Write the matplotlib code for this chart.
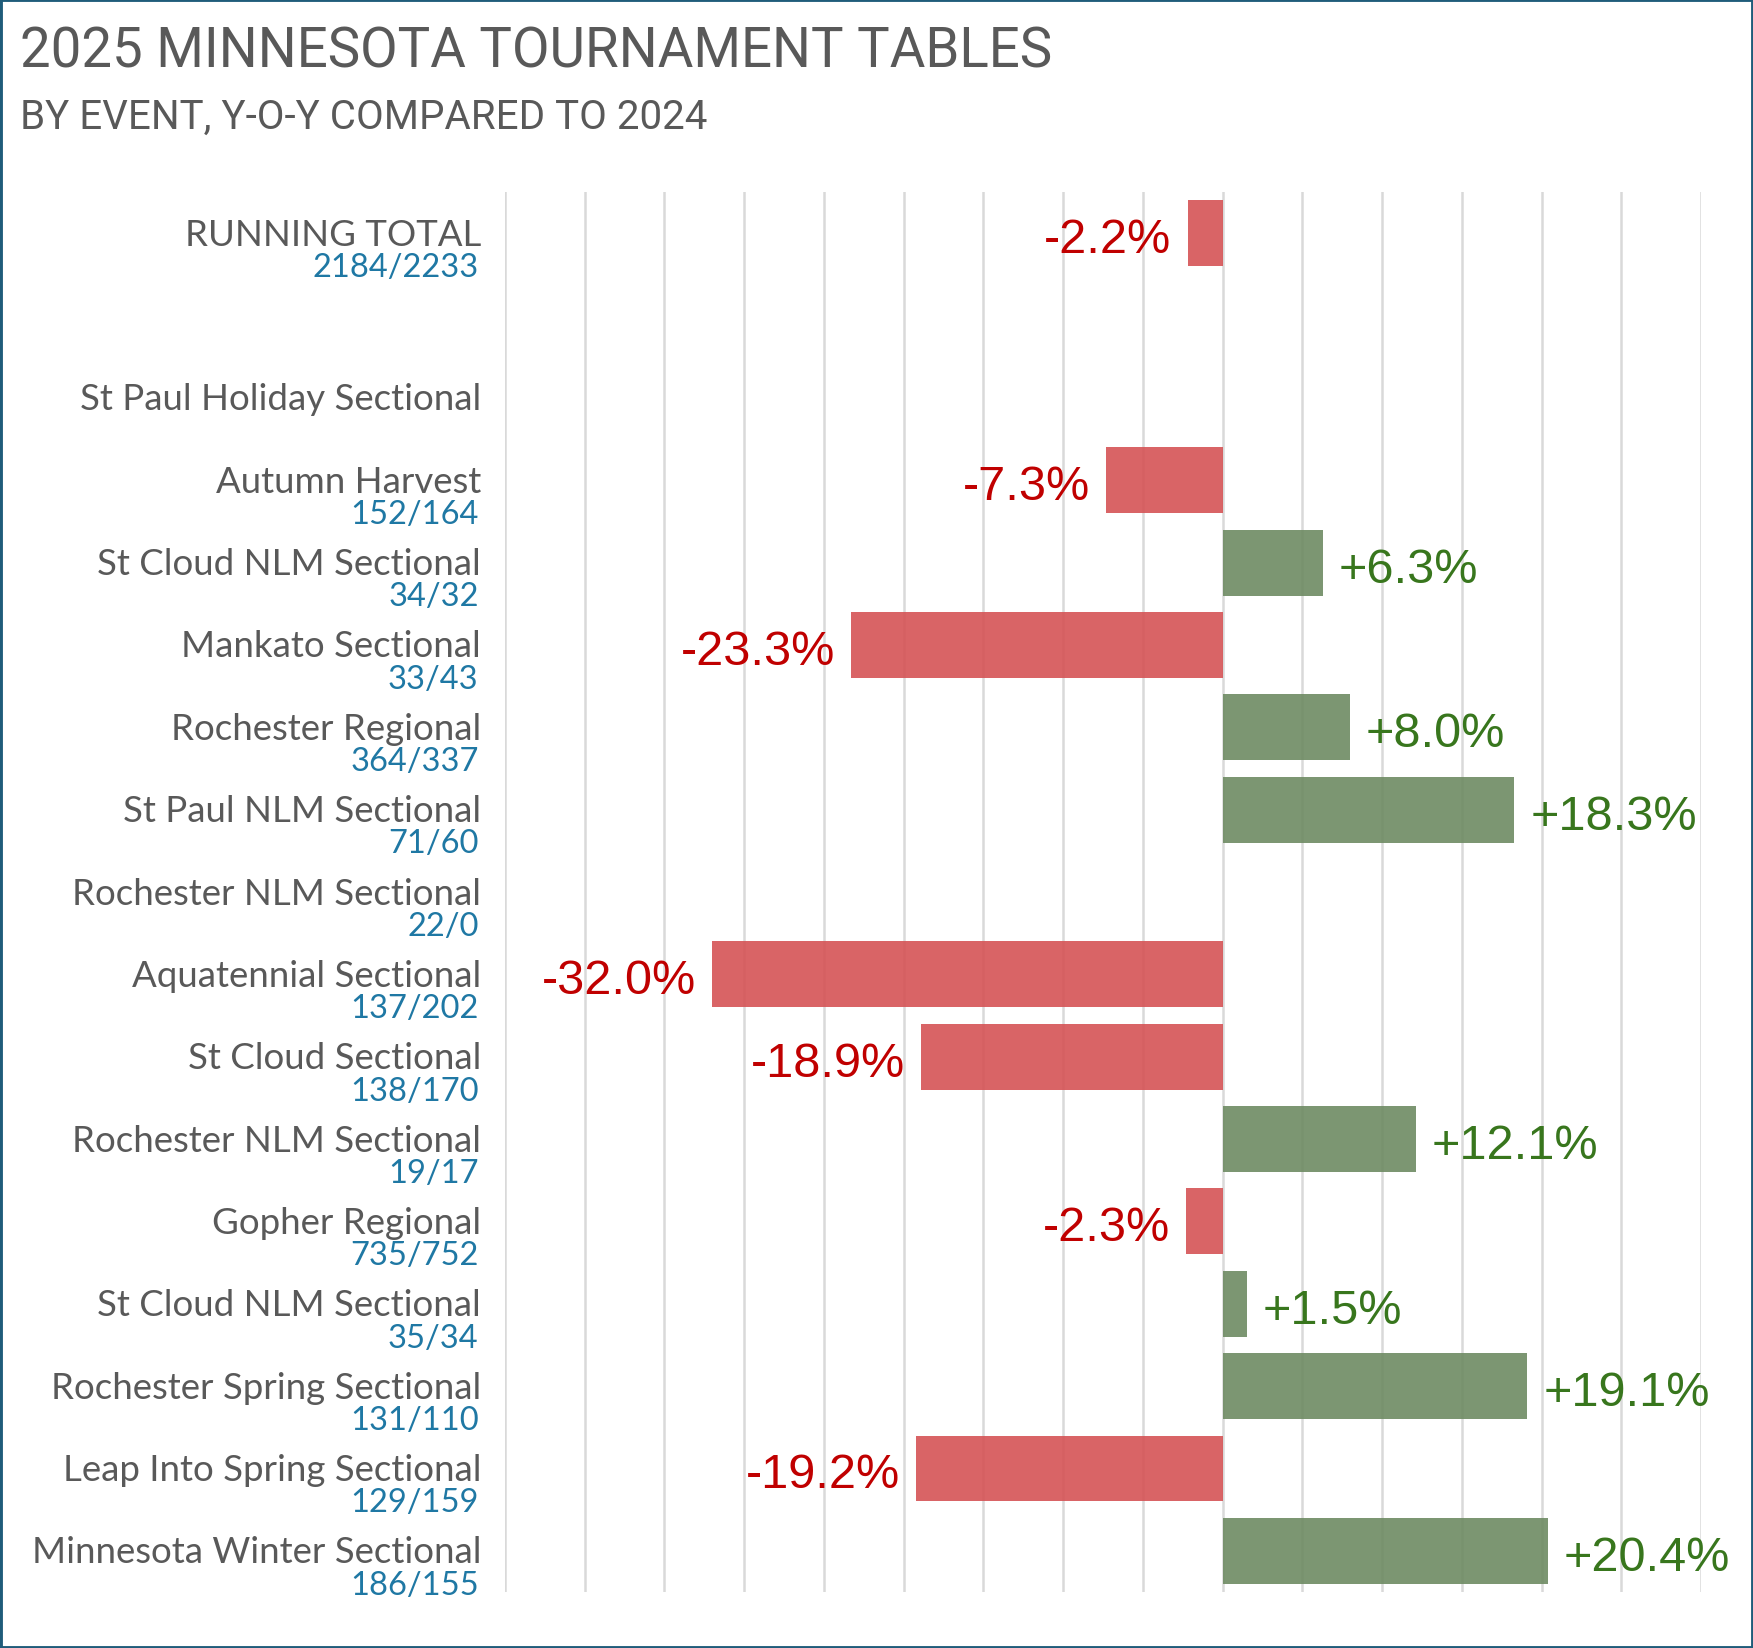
import numpy as np
import matplotlib
matplotlib.use("Agg")
import matplotlib.pyplot as plt
from matplotlib.patches import Rectangle

# rows top to bottom (empty slot after the running total)
events = ["RUNNING TOTAL", "", "St Paul Holiday Sectional", "Autumn Harvest",
          "St Cloud NLM Sectional", "Mankato Sectional", "Rochester Regional",
          "St Paul NLM Sectional", "Rochester NLM Sectional", "Aquatennial Sectional",
          "St Cloud Sectional", "Rochester NLM Sectional", "Gopher Regional",
          "St Cloud NLM Sectional", "Rochester Spring Sectional",
          "Leap Into Spring Sectional", "Minnesota Winter Sectional"]
counts = ["2184/2233", "", "", "152/164", "34/32", "33/43", "364/337", "71/60",
          "22/0", "137/202", "138/170", "19/17", "735/752", "35/34", "131/110",
          "129/159", "186/155"]
pct_change = [-2.2, np.nan, np.nan, -7.3, 6.3, -23.3, 8.0, 18.3, np.nan, -32.0,
              -18.9, 12.1, -2.3, 1.5, 19.1, -19.2, 20.4]
grid_ticks = list(range(-45, 31, 5))

GRAY = '#595959'
BLUE = '#1F78A4'
RED_BAR = '#D55355'
GREEN_BAR = '#6E8B63'
RED_TXT = '#C00000'
GREEN_TXT = '#38761D'

W, H = 1753, 1649
fig = plt.figure(figsize=(W / 100, H / 100), dpi=100)
ax = fig.add_axes([505 / W, 1 - 1593 / H, (1701 - 505) / W, (1593 - 193) / H])

y = np.arange(len(events))
vals = np.array(pct_change, dtype=float)

for g in grid_ticks:
    ax.axvline(g, color='#D9D9D9', lw=1.8, zorder=0)

cols = [GREEN_BAR if v >= 0 else RED_BAR for v in np.nan_to_num(vals)]
ax.barh(y, np.nan_to_num(vals), height=0.8, color=cols, alpha=0.9, zorder=2)

ax.set_xlim(-45, 30)
ax.set_ylim(len(events) - 0.5, -0.5)
ax.axis('off')

for i, v in enumerate(vals):
    if np.isnan(v):
        continue
    if v >= 0:
        ax.text(v + 1.0, i + 0.23, '+%.1f%%' % v, ha='left', va='baseline',
                fontsize=35, color=GREEN_TXT, family='Liberation Sans')
    else:
        ax.text(v - 1.0, i + 0.23, '%.1f%%' % v, ha='right', va='baseline',
                fontsize=35, color=RED_TXT, family='Liberation Sans')

lab_x = (481 - 505) / (1701 - 505)
for i, (name, c) in enumerate(zip(events, counts)):
    if name:
        ax.text(lab_x, i + 0.14, name, ha='right', va='baseline', fontsize=26.4,
                color=GRAY, family='Lato', transform=ax.get_yaxis_transform())
    if c:
        ax.text(lab_x - 0.002, i + 0.52, c, ha='right', va='baseline', fontsize=23.5,
                color=BLUE, family='Lato', transform=ax.get_yaxis_transform())

fig.text(20 / W, 1 - 68 / H, '2025 MINNESOTA TOURNAMENT TABLES', ha='left',
         va='baseline', fontsize=39.3, color=GRAY, family='Roboto')
fig.text(20 / W, 1 - 129 / H, 'BY EVENT, Y-O-Y COMPARED TO 2024', ha='left',
         va='baseline', fontsize=29.0, color=GRAY, family='Roboto')

fig.patches.append(Rectangle((0, 0), 1, 1, transform=fig.transFigure, fill=False,
                             edgecolor='#1F5C7A', lw=3.5))

fig.savefig('out.png', dpi=100)
